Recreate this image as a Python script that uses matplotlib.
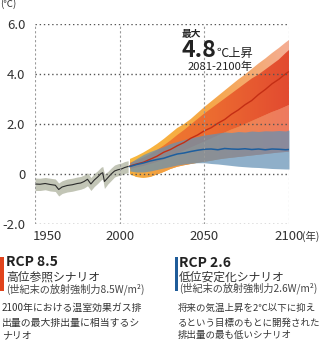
import numpy as np
import matplotlib
matplotlib.use("Agg")
import matplotlib.pyplot as plt
from matplotlib.colors import LinearSegmentedColormap
from matplotlib.patches import PathPatch, Rectangle

plt.rcParams['font.family'] = ['Noto Sans CJK JP', 'DejaVu Sans']

# 観測 (1950-2005)
hist_year = [1950, 1953, 1956, 1959, 1962, 1964, 1966, 1969, 1972, 1975, 1977, 1979,
             1981, 1983, 1985, 1987, 1989, 1990, 1991, 1993, 1995, 1997, 1999, 2001, 2003, 2005]
hist_mean = [-0.40, -0.41, -0.38, -0.42, -0.45, -0.62, -0.52, -0.46, -0.43, -0.38, -0.36, -0.30,
             -0.21, -0.40, -0.24, -0.12, 0.02, 0.05, -0.30, -0.15, 0.00, 0.12, 0.17, 0.20, 0.26, 0.30]
hist_hi = [-0.16, -0.17, -0.14, -0.17, -0.20, -0.36, -0.27, -0.20, -0.17, -0.12, -0.10, -0.04,
           0.05, -0.14, 0.02, 0.13, 0.27, 0.30, 0.00, 0.10, 0.24, 0.36, 0.41, 0.44, 0.50, 0.53]
hist_lo = [-0.66, -0.66, -0.63, -0.68, -0.70, -0.88, -0.78, -0.72, -0.69, -0.64, -0.61, -0.56,
           -0.47, -0.66, -0.50, -0.38, -0.24, -0.20, -0.58, -0.40, -0.26, -0.12, -0.07, -0.04, 0.02, 0.06]

# 将来予測 (2006-2100)
fut_year = [2006, 2010, 2014, 2018, 2022, 2026, 2030, 2034, 2038, 2042, 2046, 2050, 2054,
            2058, 2062, 2066, 2070, 2074, 2078, 2082, 2086, 2090, 2094, 2098, 2100]
rcp85_mean = [0.32, 0.40, 0.47, 0.59, 0.71, 0.87, 0.98, 1.13, 1.26, 1.43, 1.56, 1.73, 1.85,
              2.03, 2.18, 2.39, 2.56, 2.77, 2.94, 3.18, 3.38, 3.61, 3.79, 4.01, 4.10]
rcp85_top = [0.60, 0.72, 0.86, 1.02, 1.20, 1.40, 1.62, 1.84, 2.00, 2.20, 2.44, 2.68, 2.90,
             3.12, 3.34, 3.56, 3.78, 3.98, 4.20, 4.42, 4.62, 4.84, 5.04, 5.26, 5.36]
rcp85_in_top = [0.45, 0.55, 0.66, 0.80, 0.96, 1.14, 1.34, 1.56, 1.76, 1.98, 2.20, 2.42, 2.62,
                2.82, 3.02, 3.22, 3.42, 3.62, 3.82, 3.98, 4.18, 4.38, 4.58, 4.84, 4.96]
rcp85_in_lo = [0.20, 0.26, 0.32, 0.40, 0.48, 0.58, 0.70, 0.82, 0.94, 1.06, 1.18, 1.30, 1.42,
               1.54, 1.66, 1.78, 1.88, 2.00, 2.12, 2.24, 2.36, 2.48, 2.58, 2.70, 2.76]
rcp85_lo = [0.00, -0.12, -0.15, -0.12, -0.02, 0.08, 0.20, 0.29, 0.35, 0.40, 0.45, 0.49, 0.53,
            0.58, 0.62, 0.65, 0.68, 0.71, 0.74, 0.77, 0.80, 0.83, 0.86, 0.88, 0.89]
rcp26_mean = [0.30, 0.38, 0.44, 0.52, 0.58, 0.63, 0.72, 0.80, 0.84, 0.90, 0.95, 0.99, 1.00,
              0.97, 1.02, 1.00, 0.99, 1.01, 0.98, 1.00, 0.97, 1.00, 0.99, 0.97, 0.98]
rcp26_top = [0.45, 0.62, 0.78, 0.90, 1.00, 1.10, 1.22, 1.30, 1.38, 1.45, 1.50, 1.56, 1.60,
             1.64, 1.68, 1.66, 1.70, 1.68, 1.72, 1.70, 1.73, 1.72, 1.74, 1.72, 1.76]
rcp26_lo = [0.12, 0.08, 0.08, 0.12, 0.18, 0.24, 0.30, 0.36, 0.40, 0.43, 0.45, 0.45, 0.42,
            0.40, 0.37, 0.34, 0.31, 0.29, 0.27, 0.26, 0.24, 0.22, 0.21, 0.20, 0.20]

yticks = [-2, 0, 2, 4, 6]
ytick_labels = ['-2.0', '0', '2.0', '4.0', '6.0']
xticks = [1950, 2000, 2050, 2100]

W, H = 323, 340


def fx(x):
    return x / W


def fy(y):
    return 1 - y / H


def grad_fill(ax, x, lo, hi, colors, z):
    # 横方向グラデーションで帯を塗る
    poly = ax.fill_between(x, lo, hi, facecolor='none', edgecolor='none')
    patch = PathPatch(poly.get_paths()[0], transform=ax.transData,
                      facecolor='none', edgecolor='none')
    ax.add_patch(patch)
    cmap = LinearSegmentedColormap.from_list('g', colors)
    grad = np.linspace(0, 1, 256).reshape(1, -1)
    im = ax.imshow(grad, cmap=cmap, aspect='auto', origin='lower',
                   extent=[x[0], x[-1], -2, 6], zorder=z, interpolation='bilinear')
    im.set_clip_path(patch)


fig = plt.figure(figsize=(W / 100, H / 100), dpi=100)
ax = fig.add_axes([fx(35), fy(224), (289 - 35) / W, 200 / H])

# 観測
ax.fill_between(hist_year, hist_lo, hist_hi, color='#c2c5b6', lw=0, zorder=1)
ax.plot(hist_year, hist_mean, color='#2b2b2b', lw=0.8, zorder=6)

# RCP8.5
grad_fill(ax, fut_year, rcp85_lo, rcp85_top,
          [(0, '#f8b83c'), (0.5, '#f6a748'), (1, '#f4ad95')], 2)
grad_fill(ax, fut_year, rcp85_lo, rcp85_in_lo,
          [(0, '#f6ad3c'), (0.5, '#f08c48'), (1, '#ee7a60')], 3)
grad_fill(ax, fut_year, rcp85_in_lo, rcp85_in_top,
          [(0, '#f08030'), (0.5, '#ec6c30'), (1, '#e24a30')], 3)

# RCP2.6
ax.fill_between(fut_year, rcp26_lo, rcp26_top, color=(100 / 255, 145 / 255, 180 / 255),
                alpha=0.72, lw=0, zorder=4)

ax.plot(fut_year, rcp85_mean, color='#c42e14', lw=1.0, zorder=6)
ax.plot(fut_year, rcp26_mean, color='#1d5e9e', lw=1.1, zorder=6)

# グリッド
for v in yticks:
    ax.axhline(v, color='#555555', lw=1.0, ls=(0, (1, 2)), zorder=7)
for v in xticks:
    ax.axvline(v, color='#9a9a9a', lw=0.8, ls=(0, (2, 2)), zorder=7)

ax.set_xlim(1950, 2100)
ax.set_ylim(-2, 6)
for s in ax.spines.values():
    s.set_visible(False)
ax.set_yticks(yticks, ytick_labels, fontsize=9.5, color='#333333')
ax.tick_params(axis='y', length=0, pad=7)
ax.set_xticks([])

# x軸ラベル
xl = fy(236)
fig.text(fx(33), xl, '1950', ha='left', va='center', fontsize=9.5, color='#333333')
fig.text(fx(120), xl, '2000', ha='center', va='center', fontsize=9.5, color='#333333')
fig.text(fx(204), xl, '2050', ha='center', va='center', fontsize=9.5, color='#333333')
fig.text(fx(289), xl, '2100', ha='center', va='center', fontsize=9.5, color='#333333')
fig.text(fx(302), xl, '(年)', ha='left', va='center', fontsize=7.5, color='#333333')
fig.text(fx(0), fy(4), '(℃)', ha='left', va='center', fontsize=7, color='#333333')

# 注記
fig.text(fx(182), fy(34), '最大', ha='left', va='center', fontsize=7, fontweight='bold', color='#222222')
fig.text(fx(181), fy(57), '4.8', ha='left', va='baseline', fontsize=16.7, fontweight='bold', color='#222222')
fig.text(fx(216), fy(57), '℃上昇', ha='left', va='baseline', fontsize=8.8, color='#222222')
fig.text(fx(188), fy(67), '2081-2100年', ha='left', va='center', fontsize=8.1, color='#222222')

# 凡例テキスト
fig.add_artist(Rectangle((fx(0), fy(291)), 3.5 / W, 34 / H, transform=fig.transFigure,
                         color='#e0431c', lw=0))
fig.add_artist(Rectangle((fx(175), fy(291)), 2.5 / W, 34 / H, transform=fig.transFigure,
                         color='#1f5c99', lw=0))

fig.text(fx(6), fy(262), 'RCP 8.5', ha='left', va='center', fontsize=10, fontweight='bold', color='#222222')
fig.text(fx(6), fy(277), '高位参照シナリオ', ha='left', va='center', fontsize=8.5, color='#333333')
fig.text(fx(6), fy(289), '(世紀末の放射強制力8.5W/m²)', ha='left', va='center', fontsize=7.3, color='#444444')
fig.text(fx(2), fy(308), '2100年における温室効果ガス排', ha='left', va='center', fontsize=7.1, color='#333333')
fig.text(fx(2), fy(323), '出量の最大排出量に相当するシ', ha='left', va='center', fontsize=7.1, color='#333333')
fig.text(fx(2), fy(335), 'ナリオ', ha='left', va='center', fontsize=7.1, color='#333333')

fig.text(fx(179), fy(263), 'RCP 2.6', ha='left', va='center', fontsize=10, fontweight='bold', color='#222222')
fig.text(fx(179), fy(277), '低位安定化シナリオ', ha='left', va='center', fontsize=8.5, color='#333333')
fig.text(fx(179), fy(288), '(世紀末の放射強制力2.6W/m²)', ha='left', va='center', fontsize=7.3, color='#444444')
fig.text(fx(178), fy(308), '将来の気温上昇を2℃以下に抑え', ha='left', va='center', fontsize=6.8, color='#333333')
fig.text(fx(178), fy(323), 'るという目標のもとに開発された', ha='left', va='center', fontsize=6.8, color='#333333')
fig.text(fx(178), fy(335), '排出量の最も低いシナリオ', ha='left', va='center', fontsize=6.8, color='#333333')

fig.savefig('out.png', dpi=100)
